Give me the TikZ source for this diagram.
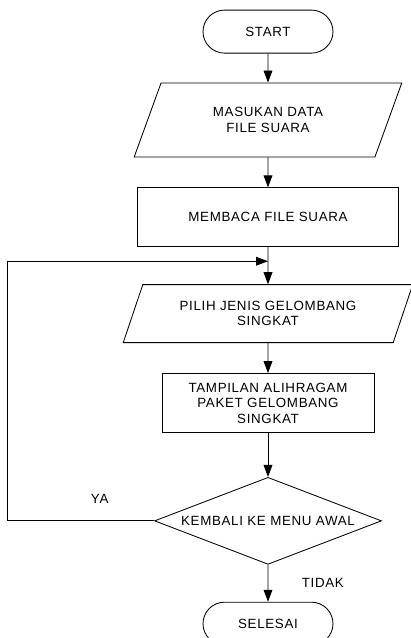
\documentclass[tikz,border=0pt]{standalone}
\usepackage{fontspec}
\setmainfont{Liberation Sans}[LetterSpace=5]
\usetikzlibrary{positioning,shapes.geometric,shapes.misc,arrows.meta}

\begin{document}
\begin{tikzpicture}
		[>={Triangle[length=0.3cm,width=0.22cm]},line width=0.6pt,
		font=\fontsize{9.5}{11}\selectfont,
		terminal/.style={rounded rectangle,draw,inner sep=0pt,minimum width=3.25cm,minimum height=1.075cm},
		io/.style={trapezium,trapezium left angle=61,trapezium right angle=119,trapezium stretches=true,draw,align=center,inner sep=0pt},
		process/.style={rectangle,draw,align=center,inner sep=0pt,minimum height=1.475cm},
		decision/.style={diamond,draw,aspect=2.61,inner sep=0pt,minimum width=5.675cm,minimum height=2.175cm}]
		\useasboundingbox (0,0) rectangle (10.275,-15.95);
		\node [terminal] (start) at (6.7,-0.79) {START};
		\node [io,minimum width=6.7cm,minimum height=1.85cm] (input) [below=0.725cm of start] {MASUKAN DATA\\FILE SUARA};
		\node [process,minimum width=6.525cm] (baca) [below=0.75cm of input] {MEMBACA FILE SUARA};
		\node [io,minimum width=7.25cm,minimum height=1.45cm] (pilih) [below=0.925cm of baca] {PILIH JENIS GELOMBANG\\SINGKAT};
		\node [process,minimum width=5.3cm] (tampil) [below=0.75cm of pilih] {TAMPILAN ALIHRAGAM\\PAKET GELOMBANG\\SINGKAT};
		\node [decision] (kembali) [below=1.1cm of tampil] {KEMBALI KE MENU AWAL};
		\node [terminal] (selesai) [below=0.925cm of kembali] {SELESAI};
		\coordinate [below=0.35cm of baca] (merge);

		\draw [->] (start) -- (input);
		\draw [->] (input) -- (baca);
		\draw [->] (baca) -- (pilih);
		\draw [->] (pilih) -- (tampil);
		\draw [->] (tampil) -- (kembali);
		\draw [->] (kembali) -- (selesai) node [midway,right=0.72cm] (tidak) {TIDAK};
		\draw [->] (kembali.west) -- ++(-3.675,0) node [pos=0.37,above=0.3cm] (ya) {YA} |- (merge);

	\end{tikzpicture}
\end{document}
